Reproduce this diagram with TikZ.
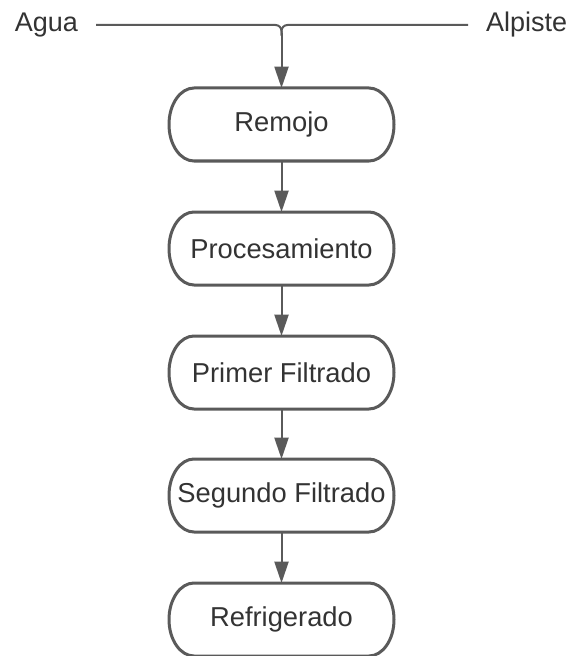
\documentclass[tikz,border=0pt]{standalone}
\usepackage{fontspec}
\setmainfont{Liberation Sans}
\usetikzlibrary{arrows.meta,backgrounds}
\definecolor{linegray}{HTML}{5A5A5A}
\definecolor{textgray}{HTML}{333333}
\tikzset{
  term/.style={rectangle, minimum width=168.75pt, minimum height=54.75pt, inner sep=0pt, outer sep=0pt,
    text=textgray, font=\fontsize{20.5pt}{24pt}\selectfont},
  border/.style={draw=linegray, line width=2.25pt, fill=white},
  lbl/.style={text=textgray, font=\fontsize{20.25pt}{24pt}\selectfont, inner sep=0pt, outer xsep=13.5pt},
  conn/.style={draw=linegray, line width=1.5pt, -{Triangle[length=16pt,width=10.5pt]}},
  feed/.style={draw=linegray, line width=1.5pt, rounded corners=4.5pt}
}
\newcommand\drawterm[1]{%
  \draw[border] ([xshift=18.75pt]#1.north west) -- ([xshift=-18.75pt]#1.north east)
    arc[start angle=90,end angle=-90,x radius=18.75pt,y radius=27.375pt]
    -- ([xshift=18.75pt]#1.south west)
    arc[start angle=270,end angle=90,x radius=18.75pt,y radius=27.375pt] -- cycle;}
\begin{document}
\begin{tikzpicture}[x=0.75pt,y=-0.75pt]
\useasboundingbox (0,0) rectangle (572,656);
\node[term] (remojo) at (281.5,124.5) {Remojo};
\node[term] (proc) at (281.5,248.5) {Procesamiento};
\node[term] (primer) at (281.5,372.5) {Primer Filtrado};
\node[term] (segundo) at (281.5,495.5) {Segundo Filtrado};
\node[term] (refri) at (281.5,619.5) {Refrigerado};
\begin{scope}[on background layer]
\drawterm{remojo}
\drawterm{proc}
\drawterm{primer}
\drawterm{segundo}
\drawterm{refri}
\end{scope}
\node[lbl, anchor=base east] (agua) at (96,32) {Agua};
\node[lbl, anchor=base west] (alpiste) at (468,32) {Alpiste};
\coordinate (j) at (281.5,25);
\draw[feed] (agua.east |- j) -| ([yshift=-8pt]j);
\draw[feed] (alpiste.west |- j) -| ([yshift=-8pt]j);
\draw[conn] ([yshift=-6pt]j) -- (remojo.north);
\draw[conn] (remojo.south) -- (proc.north);
\draw[conn] (proc.south) -- (primer.north);
\draw[conn] (primer.south) -- (segundo.north);
\draw[conn] (segundo.south) -- (refri.north);
\end{tikzpicture}
\end{document}
